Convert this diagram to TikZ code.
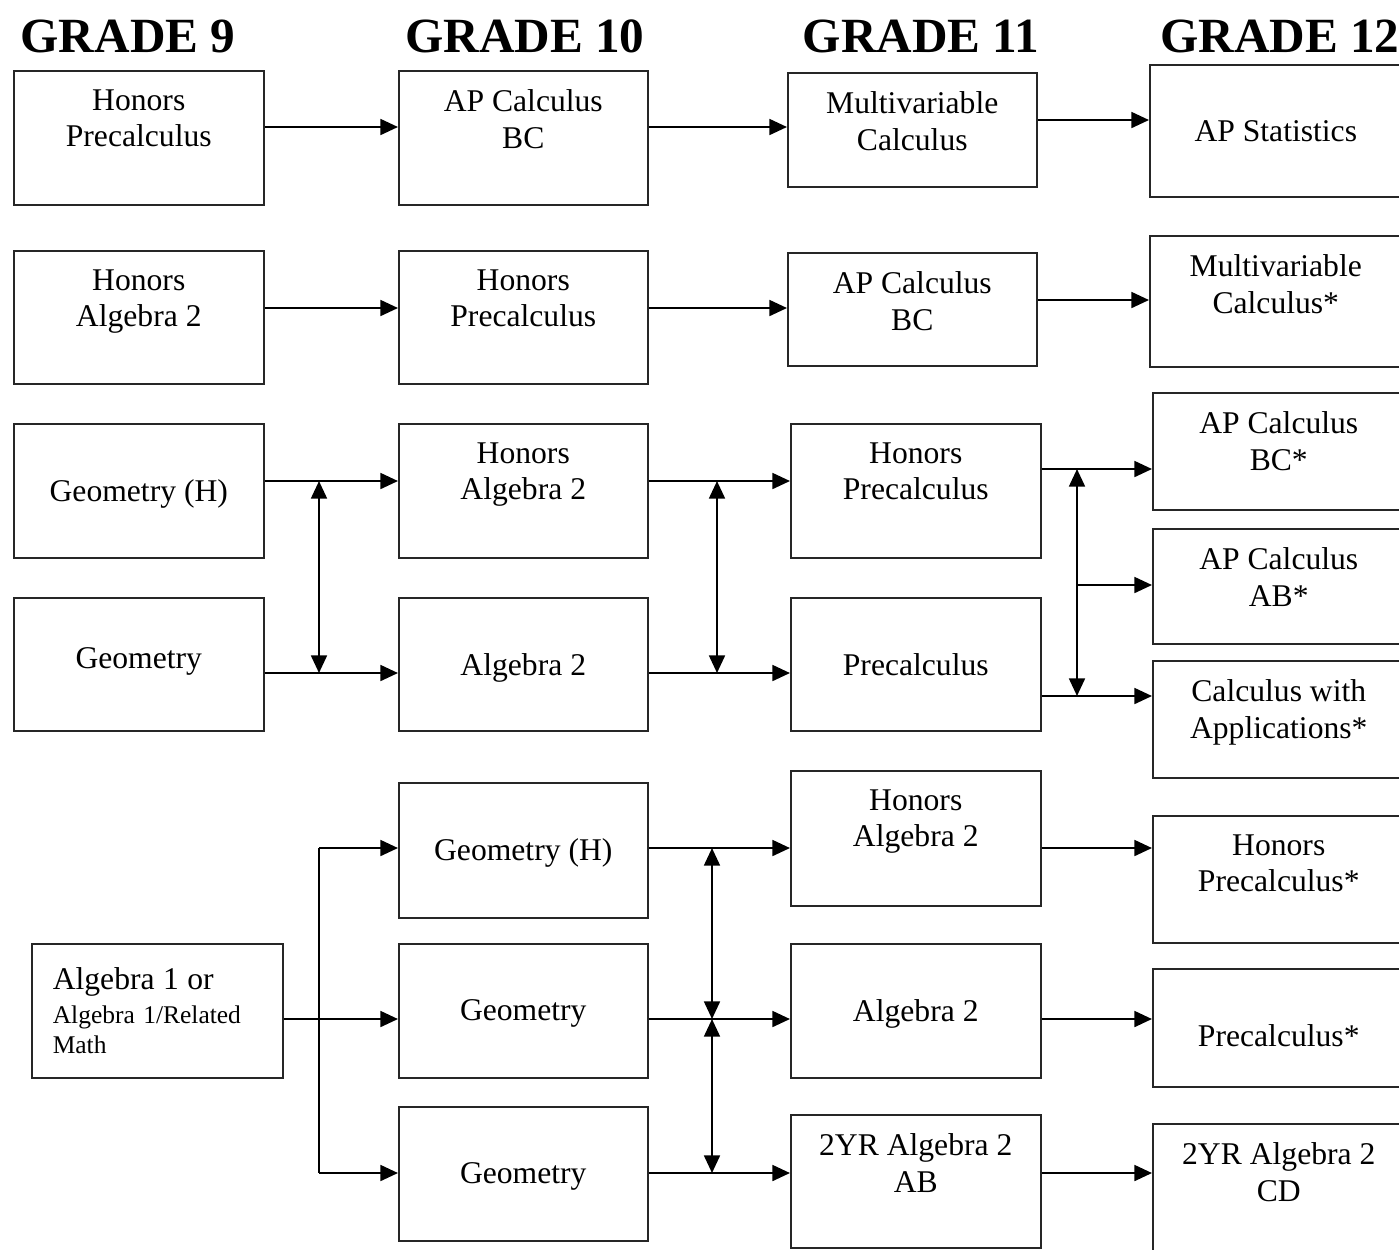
\documentclass[tikz,border=0pt]{standalone}
\usepackage{fontspec}
\setmainfont{Liberation Serif}
\usetikzlibrary{arrows.meta}
\tikzset{
  box/.style={draw=black!85,line width=.9pt,anchor=north west,minimum width=5cm,inner sep=0pt},
  txt/.style={anchor=north,align=center,inner sep=0pt,font=\fontsize{18}{21}\selectfont},
  one/.style={label={[txt,yshift=-1.12cm]north:#1}},
  two/.style={label={[txt,yshift=-0.38cm]north:#1}},
  grade/.style={anchor=base,font=\bfseries\fontsize{28}{30}\selectfont},
  arr/.style={line width=1.3pt,-{Triangle[length=10pt,width=9pt]}},
  dbl/.style={line width=1.3pt,{Triangle[length=10pt,width=9pt]}-{Triangle[length=10pt,width=9pt]}},
}
\begin{document}
\begin{tikzpicture}[x=0.02cm,y=-0.02cm]
  \useasboundingbox (0,0) rectangle (1399,1249);
  % headings
  \node[grade] (g9) at (128,52) {GRADE 9};
  \node[grade] (g10) at (525,52) {GRADE 10};
  \node[grade] (g11) at (921,52) {GRADE 11};
  \node[grade] (g12) at (1280,52) {GRADE 12};
  % grade 9
  \node[box,minimum height=2.68cm,two={Honors\\Precalculus}] (hpre9) at (13,70) {};
  \node[box,minimum height=2.66cm,two={Honors\\Algebra 2}] (halg9) at (13,250) {};
  \node[box,minimum height=2.68cm,one={Geometry (H)}] (geoh9) at (13,423) {};
  \node[box,minimum height=2.66cm,label={[txt,yshift=-1.0cm]north:Geometry}] (geo9) at (13,597) {};
  \node[box,minimum width=5.02cm,minimum height=2.68cm,text width=4.18cm,align=left,
        font=\fontsize{14.5}{17}\selectfont] (alg1) at (31,943)
        {{\fontsize{18}{20}\selectfont Algebra 1 or}\\[2.5pt]Algebra 1/Related\\Math\\[8pt]};
  % grade 10
  \begin{scope}[box/.append style={minimum width=4.98cm}]
    \node[box,minimum height=2.68cm,two={AP Calculus\\BC}] (apbc10) at (398,70) {};
    \node[box,minimum height=2.66cm,two={Honors\\Precalculus}] (hpre10) at (398,250) {};
    \node[box,minimum height=2.68cm,two={Honors\\Algebra 2}] (halg10) at (398,423) {};
    \node[box,minimum height=2.66cm,one={Algebra 2}] (alg10) at (398,597) {};
    \node[box,minimum height=2.70cm,one={Geometry (H)}] (geoh10) at (398,782) {};
    \node[box,minimum height=2.68cm,one={Geometry}] (geo10a) at (398,943) {};
    \node[box,minimum height=2.68cm,one={Geometry}] (geo10b) at (398,1106) {};
  \end{scope}
  % grade 11
  \node[box,minimum width=4.98cm,minimum height=2.28cm,two={Multivariable\\Calculus}] (mvc11) at (787,72) {};
  \node[box,minimum width=4.98cm,minimum height=2.26cm,two={AP Calculus\\BC}] (apbc11) at (787,252) {};
  \node[box,minimum height=2.68cm,two={Honors\\Precalculus}] (hpre11) at (790,423) {};
  \node[box,minimum height=2.66cm,one={Precalculus}] (pre11) at (790,597) {};
  \node[box,minimum height=2.70cm,two={Honors\\Algebra 2}] (halg11) at (790,770) {};
  \node[box,minimum height=2.68cm,one={Algebra 2}] (alg11) at (790,943) {};
  \node[box,minimum height=2.66cm,two={2YR Algebra 2\\AB}] (ab11) at (790,1114) {};
  % grade 12
  \begin{scope}[box/.append style={minimum width=5.04cm}]
    \node[box,minimum height=2.64cm,one={AP Statistics}] (aps12) at (1149,64) {};
    \node[box,minimum height=2.62cm,two={Multivariable\\Calculus*}] (mvc12) at (1149,235) {};
    \node[box,minimum height=2.34cm,two={AP Calculus\\BC*}] (apbc12) at (1152,392) {};
    \node[box,minimum height=2.30cm,two={AP Calculus\\AB*}] (apab12) at (1152,528) {};
    \node[box,minimum height=2.34cm,two={Calculus with\\Applications*}] (cwa12) at (1152,660) {};
    \node[box,minimum height=2.54cm,two={Honors\\Precalculus*}] (hpre12) at (1152,815) {};
    \node[box,minimum height=2.36cm,one={Precalculus*}] (pre12) at (1152,968) {};
    \node[box,minimum height=2.80cm,two={2YR Algebra 2\\CD}] (cd12) at (1152,1123) {};
  \end{scope}
  % junctions
  \coordinate (j1a) at (319,481); \coordinate (j1b) at (319,673);
  \coordinate (j2a) at (717,481); \coordinate (j2b) at (717,673);
  \coordinate (j3a) at (1077,469); \coordinate (j3m) at (1077,585); \coordinate (j3b) at (1077,696);
  \coordinate (j4a) at (319,848); \coordinate (j4m) at (319,1019); \coordinate (j4b) at (319,1173);
  \coordinate (j5a) at (712,848); \coordinate (j5m) at (712,1019); \coordinate (j5b) at (712,1173);
  % top rows
  \draw[arr] (hpre9.east |- 0,127) -- (apbc10.west |- 0,127);
  \draw[arr] (apbc10.east |- 0,127) -- (mvc11.west |- 0,127);
  \draw[arr] (mvc11.east |- 0,120) -- (aps12.west |- 0,120);
  \draw[arr] (halg9.east |- 0,308) -- (hpre10.west |- 0,308);
  \draw[arr] (hpre10.east |- 0,308) -- (apbc11.west |- 0,308);
  \draw[arr] (apbc11.east |- 0,300) -- (mvc12.west |- 0,300);
  % middle rows
  \draw[arr] (geoh9.east |- j1a) -- (halg10.west |- j1a);
  \draw[arr] (geo9.east |- j1b) -- (alg10.west |- j1b);
  \draw[dbl] (j1a) -- (j1b);
  \draw[arr] (halg10.east |- j2a) -- (hpre11.west |- j2a);
  \draw[arr] (alg10.east |- j2b) -- (pre11.west |- j2b);
  \draw[dbl] (j2a) -- (j2b);
  \draw[arr] (hpre11.east |- j3a) -- (apbc12.west |- j3a);
  \draw[arr] (j3m) -- (apab12.west |- j3m);
  \draw[arr] (pre11.east |- j3b) -- (cwa12.west |- j3b);
  \draw[dbl] (j3a) -- (j3b);
  % bottom rows
  \draw[arr] (alg1.east |- j4m) -- (geo10a.west |- j4m);
  \draw[line width=1.3pt] (j4a) -- (j4b);
  \draw[arr] (j4a) -- (geoh10.west |- j4a);
  \draw[arr] (j4b) -- (geo10b.west |- j4b);
  \draw[arr] (geoh10.east |- j5a) -- (halg11.west |- j5a);
  \draw[arr] (geo10a.east |- j5m) -- (alg11.west |- j5m);
  \draw[arr] (geo10b.east |- j5b) -- (ab11.west |- j5b);
  \draw[dbl] (j5a) -- (j5m);
  \draw[dbl] (j5m) -- (j5b);
  \draw[arr] (halg11.east |- j5a) -- (hpre12.west |- j5a);
  \draw[arr] (alg11.east |- j5m) -- (pre12.west |- j5m);
  \draw[arr] (ab11.east |- j5b) -- (cd12.west |- j5b);
\end{tikzpicture}
\end{document}
